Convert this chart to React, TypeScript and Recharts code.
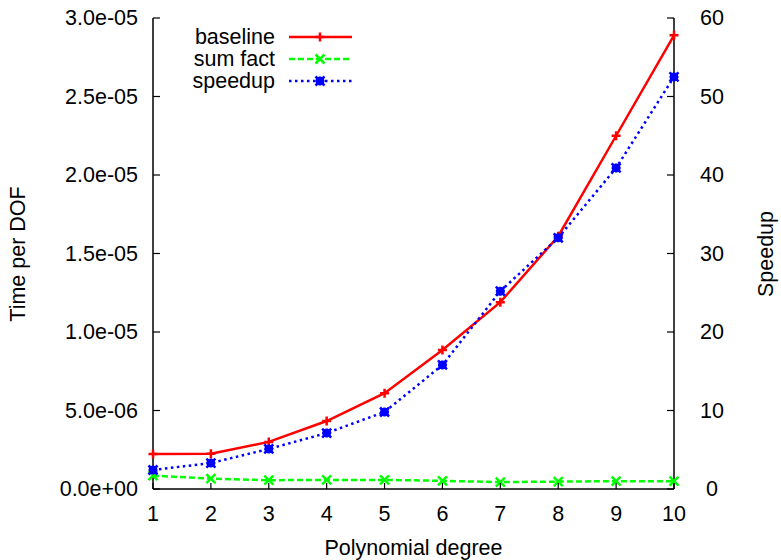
import React from 'react';
import { LineChart, Line, XAxis, YAxis, Legend } from 'recharts';

const degrees = [1, 2, 3, 4, 5, 6, 7, 8, 9, 10];
const baseline = [2.23e-6, 2.25e-6, 3.0e-6, 4.33e-6, 6.1e-6, 8.85e-6, 1.19e-5, 1.61e-5, 2.25e-5, 2.89e-5];
const sumFact = [8.5e-7, 6.6e-7, 5.6e-7, 5.8e-7, 5.8e-7, 5.2e-7, 4.4e-7, 4.7e-7, 5.0e-7, 5.0e-7];
const speedup = [2.42, 3.31, 5.1, 7.13, 9.81, 15.8, 25.2, 32.0, 40.9, 52.5];

const timeTicks = [0, 5e-6, 1e-5, 1.5e-5, 2e-5, 2.5e-5, 3e-5];
const speedupTicks = [0, 10, 20, 30, 40, 50, 60];

const data = degrees.map((d, i) => ({
  degree: d,
  baseline: baseline[i],
  sumFact: sumFact[i],
  speedup: speedup[i],
}));

// plot box (gnuplot-ish layout)
const L = 153;
const R = 674;
const T = 18;
const B = 489;
const FONT = '"Liberation Sans", Arial, Helvetica, sans-serif';
const FS = 21.5;
const LW = 2.5;

const fmtExp = (v: number) => {
  const [m, e] = v.toExponential(1).split('e');
  const n = parseInt(e, 10);
  return `${m}e${n < 0 ? '-' : '+'}${String(Math.abs(n)).padStart(2, '0')}`;
};

const BottomTick = (props: any) => {
  const { x, payload } = props;
  return (
    <g>
      <line x1={x} x2={x} y1={B} y2={B - 6} stroke="#000" strokeWidth={1.2} />
      <text x={x} y={514} textAnchor="middle" dominantBaseline="central" fontFamily={FONT} fontSize={FS} fill="#000">
        {payload.value}
      </text>
    </g>
  );
};

const TopTick = (props: any) => {
  const { x } = props;
  return <line x1={x} x2={x} y1={T} y2={T + 6} stroke="#000" strokeWidth={1.2} />;
};

const LeftTick = (props: any) => {
  const { y, payload } = props;
  return (
    <g>
      <line x1={L} x2={L + 7} y1={y} y2={y} stroke="#000" strokeWidth={1.2} />
      <text x={138} y={y} textAnchor="end" dominantBaseline="central" fontFamily={FONT} fontSize={FS} fill="#000">
        {fmtExp(payload.value)}
      </text>
    </g>
  );
};

const RightTick = (props: any) => {
  const { y, payload } = props;
  return (
    <g>
      <line x1={R} x2={R - 7} y1={y} y2={y} stroke="#000" strokeWidth={1.2} />
      <text x={712} y={y} textAnchor="middle" dominantBaseline="central" fontFamily={FONT} fontSize={FS} fill="#000">
        {payload.value}
      </text>
    </g>
  );
};

const AxisTitle = ({ tx, ty, rot, text }: any) => (
  <text
    x={tx}
    y={ty}
    transform={rot ? `rotate(${rot} ${tx} ${ty})` : undefined}
    textAnchor="middle"
    dominantBaseline="central"
    fontFamily={FONT}
    fontSize={FS}
    fill="#000"
  >
    {text}
  </text>
);

// gnuplot point types: 1 = plus, 2 = cross, 3 = star
const markPath = (kind: string, cx: number, cy: number) => {
  const s = 4.5;
  const plus = `M${cx - s},${cy}H${cx + s}M${cx},${cy - s}V${cy + s}`;
  const cross = `M${cx - s},${cy - s}L${cx + s},${cy + s}M${cx - s},${cy + s}L${cx + s},${cy - s}`;
  if (kind === 'plus') return plus;
  if (kind === 'cross') return cross;
  return plus + cross;
};

const makeDot = (kind: string, color: string) => (props: any) => {
  const { cx, cy, index } = props;
  if (cx == null || cy == null) return <g key={`e-${index}`} />;
  return (
    <g key={`${kind}-${index}`}>
      {kind === 'star' && <rect x={cx - 4} y={cy - 4} width={8} height={8} fill={color} />}
      <path d={markPath(kind, cx, cy)} stroke={color} strokeWidth={2.5} fill="none" />
    </g>
  );
};

const legendItems = [
  { label: 'baseline', color: '#ff0000', dash: undefined, kind: 'plus' },
  { label: 'sum fact', color: '#00ff00', dash: '6 3', kind: 'cross' },
  { label: 'speedup', color: '#0000ff', dash: '2.5 3.5', kind: 'star' },
];

const GnuLegend = () => (
  <svg width={400} height={100} style={{ display: 'block' }}>
    {legendItems.map((it, i) => {
      const y = 37 + i * 22;
      return (
        <g key={it.label}>
          <text x={275} y={y} textAnchor="end" dominantBaseline="central" fontFamily={FONT} fontSize={FS} fill="#000">
            {it.label}
          </text>
          <line x1={289} x2={352} y1={y} y2={y} stroke={it.color} strokeWidth={LW} strokeDasharray={it.dash} />
          {it.kind === 'star' && <rect x={316} y={y - 4} width={8} height={8} fill={it.color} />}
          <path d={markPath(it.kind, 320, y)} stroke={it.color} strokeWidth={2.5} fill="none" />
        </g>
      );
    })}
  </svg>
);

export default function App() {
  return (
    <div style={{ position: 'absolute', left: 0, top: 0, background: '#fff' }}>
      <LineChart width={781} height={560} data={data} margin={{ top: T, right: 0, bottom: 0, left: 0 }}>
        <XAxis
          xAxisId="bottom"
          dataKey="degree"
          type="number"
          domain={[1, 10]}
          ticks={degrees}
          height={560 - B}
          axisLine={{ stroke: '#000', strokeWidth: 1.5 }}
          tickLine={false}
          tick={<BottomTick />}
          label={<AxisTitle tx={(L + R) / 2} ty={548} text="Polynomial degree" />}
        />
        <XAxis
          xAxisId="top"
          orientation="top"
          dataKey="degree"
          type="number"
          domain={[1, 10]}
          ticks={degrees}
          height={0}
          axisLine={{ stroke: '#000', strokeWidth: 1.5 }}
          tickLine={false}
          tick={<TopTick />}
        />
        <YAxis
          yAxisId="time"
          domain={[0, 3e-5]}
          ticks={timeTicks}
          width={L}
          axisLine={{ stroke: '#000', strokeWidth: 1.5 }}
          tickLine={false}
          tick={<LeftTick />}
          label={<AxisTitle tx={18} ty={254} rot={-90} text="Time per DOF" />}
        />
        <YAxis
          yAxisId="speed"
          orientation="right"
          domain={[0, 60]}
          ticks={speedupTicks}
          width={781 - R}
          axisLine={{ stroke: '#000', strokeWidth: 1.5 }}
          tickLine={false}
          tick={<RightTick />}
          label={<AxisTitle tx={766} ty={254} rot={-90} text="Speedup" />}
        />
        <Legend
          layout="vertical"
          align="center"
          verticalAlign="middle"
          content={() => <GnuLegend />}
          wrapperStyle={{ position: 'absolute', left: 0, top: 0, width: 400, height: 100, pointerEvents: 'none' }}
        />
        <Line
          xAxisId="bottom"
          yAxisId="time"
          dataKey="baseline"
          name="baseline"
          stroke="#ff0000"
          strokeWidth={LW}
          type="linear"
          dot={makeDot('plus', '#ff0000')}
          isAnimationActive={false}
        />
        <Line
          xAxisId="bottom"
          yAxisId="time"
          dataKey="sumFact"
          name="sum fact"
          stroke="#00ff00"
          strokeWidth={LW}
          strokeDasharray="6 3"
          type="linear"
          dot={makeDot('cross', '#00ff00')}
          isAnimationActive={false}
        />
        <Line
          xAxisId="bottom"
          yAxisId="speed"
          dataKey="speedup"
          name="speedup"
          stroke="#0000ff"
          strokeWidth={LW}
          strokeDasharray="2.5 3.5"
          type="linear"
          dot={makeDot('star', '#0000ff')}
          isAnimationActive={false}
        />
      </LineChart>
    </div>
  );
}
